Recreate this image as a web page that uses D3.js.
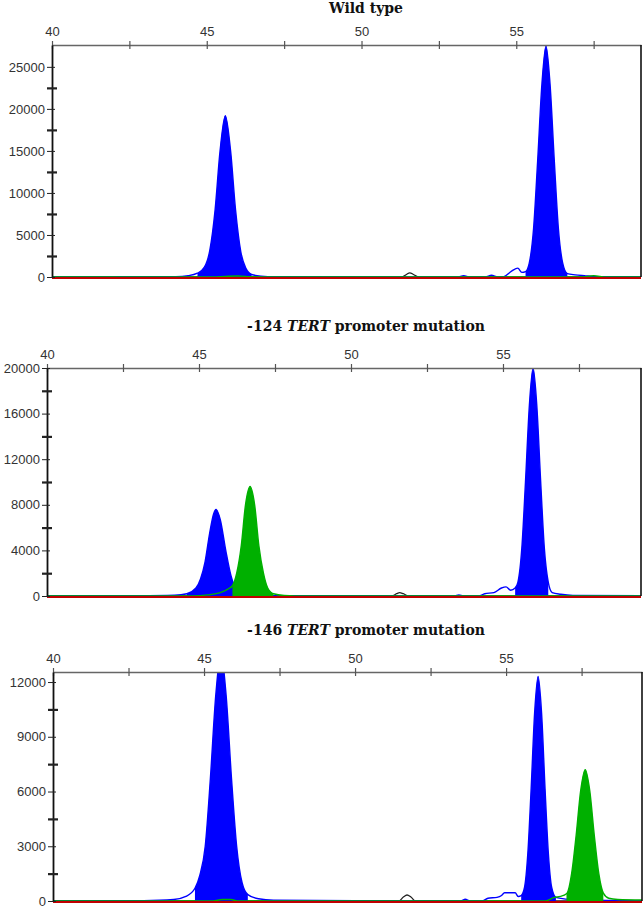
<!DOCTYPE html>
<html>
<head>
<meta charset="utf-8">
<script src="https://cdn.jsdelivr.net/npm/d3@7"></script>
<style>
  body { margin: 0; background: #fff; }
</style>
</head>
<body>
<div id="chart"></div>
<script>
// ---- data: [size, RFU] ----
const xMajor = [40, 45, 50, 55];
const xMinor = [42.5, 47.5, 52.5, 57.5];

// Wild type
const wtBlue = [[40, 0], [42, 20], [44, 40], [44.4, 150], [44.7, 450], [44.93, 1200], [45.1, 3200], [45.27, 8000],
  [45.43, 15000], [45.6, 19200], [45.77, 15000], [45.93, 8000], [46.1, 3000], [46.27, 1000], [46.45, 300],
  [46.75, 100], [47.2, 30], [50, 20], [53.1, 0], [53.3, 150], [53.5, 0], [54, 0], [54.2, 200], [54.4, 0],
  [54.6, 50], [54.85, 700], [55.05, 1050], [55.18, 550], [55.3, 650], [55.42, 1650], [55.56, 5800],
  [55.69, 13750], [55.83, 23000], [55.96, 27500], [56.09, 23000], [56.23, 13750], [56.36, 5800],
  [56.5, 1650], [56.65, 400], [56.9, 250], [57.2, 150], [57.6, 40], [59.1, 20]];
const wtGreen = [[40, 0], [45.2, 0], [45.6, 80], [46, 120], [46.4, 40], [47, 0], [57.1, 0], [57.5, 150],
  [57.9, 0], [59.1, 0]];
const wtBlack = [[40, 0], [51.3, 0], [51.45, 300], [51.56, 500], [51.68, 300], [51.85, 0], [59.1, 0]];
const wtRed = [[40, 0], [59.1, 0]];
const wtBluePeaks = [[44.7, 46.45], [55.28, 56.7]];
const wtGreenPeaks = [];

// -124 TERT promoter mutation
const m124Blue = [[40, 0], [43, 20], [44.2, 60], [44.6, 200], [44.9, 700], [45.05, 1500], [45.2, 3000],
  [45.35, 5500], [45.48, 7200], [45.56, 7600], [45.7, 6700], [45.88, 4000], [46.05, 1800], [46.2, 700],
  [46.4, 250], [46.7, 80], [47.2, 30], [51, 20], [53.4, 0], [53.55, 100], [53.7, 0], [54.2, 0], [54.4, 200],
  [54.7, 300], [54.95, 700], [55.1, 800], [55.25, 500], [55.4, 700], [55.49, 1200], [55.62, 4200],
  [55.74, 10000], [55.87, 16800], [55.99, 20000], [56.11, 16800], [56.24, 10000], [56.36, 4200],
  [56.49, 1200], [56.62, 300], [56.9, 150], [57.3, 50], [59.6, 20]];
const m124Green = [[40, 0], [44.8, 0], [45.3, 100], [45.7, 300], [45.95, 600], [46.1, 900], [46.24, 2000],
  [46.39, 4400], [46.53, 8000], [46.68, 9600], [46.83, 8000], [46.97, 4400], [47.12, 2000], [47.26, 700],
  [47.45, 200], [47.8, 50], [48.5, 0], [59.6, 0]];
const m124Black = [[40, 0], [46.5, 0], [46.7, 150], [46.9, 0], [51.35, 0], [51.5, 200], [51.6, 300],
  [51.72, 200], [51.9, 0], [59.6, 0]];
const m124Red = [[40, 0], [59.6, 0]];
const m124BluePeaks = [[44.6, 46.5], [55.4, 56.6]];
const m124GreenPeaks = [[46.0, 47.55]];

// -146 TERT promoter mutation (first blue peak runs off the top)
const m146Blue = [[40, 0], [43, 20], [44, 80], [44.4, 250], [44.7, 700], [44.86, 1400], [45.04, 3000],
  [45.21, 6700], [45.39, 11300], [45.56, 13500], [45.73, 11300], [45.91, 6700], [46.08, 3000],
  [46.26, 1000], [46.45, 350], [46.8, 120], [47.3, 40], [50, 20], [53.5, 0], [53.65, 100], [53.8, 0],
  [54.2, 0], [54.4, 150], [54.7, 200], [54.85, 300], [54.95, 450], [55.3, 450], [55.4, 250], [55.5, 300],
  [55.61, 740], [55.72, 2600], [55.83, 6150], [55.945, 10300], [56.06, 12300], [56.175, 10300],
  [56.29, 6150], [56.4, 2600], [56.51, 740], [56.65, 200], [57, 100], [57.5, 40], [59.6, 20]];
const m146Green = [[40, 0], [45.3, 0], [45.6, 80], [45.9, 80], [46.1, 0], [56.3, 0], [56.6, 200],
  [56.8, 250], [57, 400], [57.02, 430], [57.17, 1500], [57.32, 3600], [57.47, 6050], [57.62, 7200],
  [57.77, 6050], [57.92, 3600], [58.07, 1500], [58.22, 430], [58.4, 150], [58.7, 80], [59.6, 50]];
const m146Black = [[40, 0], [51.45, 0], [51.6, 220], [51.72, 330], [51.85, 220], [52, 0], [59.6, 0]];
const m146Red = [[40, 0], [59.6, 0]];
const m146BluePeaks = [[44.6, 46.5], [55.45, 56.7]];
const m146GreenPeaks = [[57.0, 58.3]];

// ---- layout ----
const width = 644, height = 908;
const COLORS = { blue: "#0000ff", green: "#00b000", black: "#222", red: "#c00000" };

const panels = [
  { title: [["Wild type", false]], titleY: 13, left: 52, right: 641, top: 45, zero: 277,
    xMax: 59.03, yMax: 27600, yMajor: [0, 5000, 10000, 15000, 20000, 25000],
    yMinor: [2500, 7500, 12500, 17500, 22500],
    blue: wtBlue, green: wtGreen, black: wtBlack, red: wtRed, bluePeaks: wtBluePeaks, greenPeaks: wtGreenPeaks },
  { title: [["-124 ", false], ["TERT", true], [" promoter mutation", false]], titleY: 331,
    left: 47, right: 641, top: 368, zero: 596,
    xMax: 59.54, yMax: 20000, yMajor: [0, 4000, 8000, 12000, 16000, 20000],
    yMinor: [2000, 6000, 10000, 14000, 18000],
    blue: m124Blue, green: m124Green, black: m124Black, red: m124Red, bluePeaks: m124BluePeaks, greenPeaks: m124GreenPeaks },
  { title: [["-146 ", false], ["TERT", true], [" promoter mutation", false]], titleY: 635,
    left: 53, right: 642, top: 672, zero: 901,
    xMax: 59.5, yMax: 12550, yMajor: [0, 3000, 6000, 9000, 12000],
    yMinor: [1500, 4500, 7500, 10500],
    blue: m146Blue, green: m146Green, black: m146Black, red: m146Red, bluePeaks: m146BluePeaks, greenPeaks: m146GreenPeaks }
];

const svg = d3.select("#chart")
  .append("svg")
    .attr("width", width)
    .attr("height", height);

panels.forEach((p, i) => {
  const x = d3.scaleLinear().domain([40, p.xMax]).range([p.left, p.right]);
  const y = d3.scaleLinear().domain([0, p.yMax]).range([p.zero, p.top]);

  // title
  const t = svg.append("text")
    .attr("x", 366).attr("y", p.titleY)
    .attr("text-anchor", "middle")
    .attr("font-family", "DejaVu Serif, serif")
    .attr("font-weight", "bold")
    .attr("font-size", 14)
    .attr("fill", "#111");
  p.title.forEach(([s, it]) => t.append("tspan").attr("font-style", it ? "italic" : "normal").text(s));

  // clip
  const clipId = "clip" + i;
  svg.append("clipPath").attr("id", clipId)
    .append("rect")
      .attr("x", p.left).attr("y", p.top)
      .attr("width", p.right - p.left).attr("height", p.zero - p.top + 3);

  const g = svg.append("g").attr("clip-path", "url(#" + clipId + ")");

  const line = d3.line().x(d => x(d[0])).y(d => y(d[1])).curve(d3.curveMonotoneX);
  const area = d3.area().x(d => x(d[0])).y0(y(0)).y1(d => y(d[1])).curve(d3.curveMonotoneX);

  g.append("path").attr("d", line(p.black)).attr("fill", "none")
    .attr("stroke", COLORS.black).attr("stroke-width", 1.3);

  // blue then green, filled called peaks
  [["blue", p.blue, p.bluePeaks], ["green", p.green, p.greenPeaks]].forEach(([c, pts, peaks]) => {
    peaks.forEach(([a, b]) => {
      g.append("path")
        .attr("d", area(pts.filter(d => d[0] >= a && d[0] <= b)))
        .attr("fill", COLORS[c]);
    });
    g.append("path").attr("d", line(pts)).attr("fill", "none")
      .attr("stroke", COLORS[c]).attr("stroke-width", 1.4);
  });

  // red size-standard trace sits on the baseline
  g.append("path").attr("d", line(p.red)).attr("fill", "none")
    .attr("transform", "translate(0,1)")
    .attr("stroke", COLORS.red).attr("stroke-width", 1.8);

  // top axis (size)
  const top = svg.append("g").attr("transform", "translate(0," + p.top + ")");
  top.call(d3.axisTop(x).tickValues(xMajor).tickSize(4).tickSizeOuter(0).tickPadding(5));
  top.append("g").call(d3.axisTop(x).tickValues(xMinor).tickSize(4).tickSizeOuter(0).tickFormat(""))
    .select(".domain").remove();
  top.selectAll(".tick line").attr("y2", -4).attr("y1", 4).attr("stroke", "#555").attr("stroke-width", 1.2);
  top.selectAll(".domain").attr("stroke", "#666").attr("stroke-width", 1.6);
  top.selectAll("text")
    .attr("font-family", "Liberation Sans, Arial, sans-serif")
    .attr("font-size", 13).attr("fill", "#333");

  // left axis (RFU)
  const left = svg.append("g").attr("transform", "translate(" + p.left + ",0)");
  left.call(d3.axisLeft(y).tickValues(p.yMajor).tickFormat(d3.format("d"))
    .tickSize(5).tickSizeOuter(0).tickPadding(2));
  left.selectAll(".tick line").attr("x1", 3);
  left.append("g").call(d3.axisLeft(y).tickValues(p.yMinor).tickSize(5).tickSizeOuter(0).tickFormat(""))
    .call(s => s.select(".domain").remove())
    .selectAll(".tick line").attr("x1", 5).attr("stroke-width", 2.2);
  left.selectAll(".tick line").attr("stroke", "#222");
  left.selectAll(".domain").attr("stroke", "#111").attr("stroke-width", 1.8);
  left.selectAll("text")
    .attr("font-family", "Liberation Sans, Arial, sans-serif")
    .attr("font-size", 13).attr("fill", "#333");

  // right border
  svg.append("line")
    .attr("x1", p.right).attr("x2", p.right)
    .attr("y1", p.top).attr("y2", p.zero)
    .attr("stroke", "#111").attr("stroke-width", 1.6);
});
</script>
</body>
</html>
